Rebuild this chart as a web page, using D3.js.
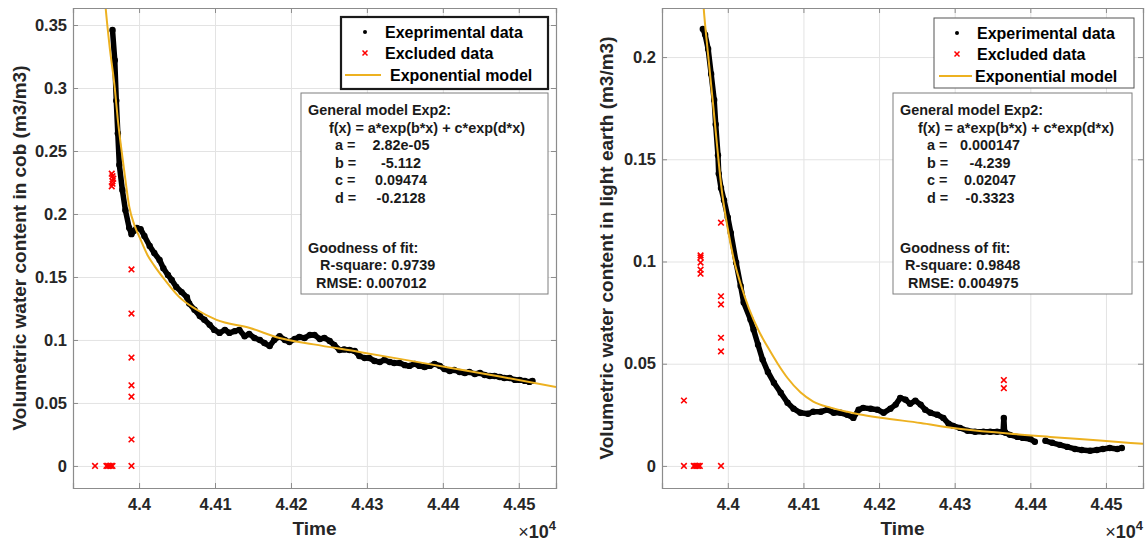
<!DOCTYPE html>
<html>
<head>
<meta charset="UTF-8">
<title>Exp2 fit - volumetric water content</title>
<style>
html, body {
    margin: 0;
    padding: 0;
    background-color: #fff;
}
svg text {
    font-family: "Liberation Sans", Arial, sans-serif;
    font-weight: bold;
}
.axis path, .axis line {
    stroke: #8c8c8c;
}
.axis .tick text {
    fill: #262626;
    font-size: 16.5px;
}
.grid line {
    stroke: #e3e3e3;
}
.grid path {
    display: none;
}
</style>
</head>
<body>
<svg id="chart" width="1146" height="542"></svg>
<script src="https://cdn.jsdelivr.net/npm/d3@7/dist/d3.min.js"></script>
<script>
// shared ticks
const xTicks = [44000, 44100, 44200, 44300, 44400, 44500];
const cobYTicks = [0, 0.05, 0.1, 0.15, 0.2, 0.25, 0.3, 0.35];
const earthYTicks = [0, 0.05, 0.1, 0.15, 0.2];
const legendLabelsCob = ['Exeprimental data', 'Excluded data', 'Exponential model'];
const legendLabelsEarth = ['Experimental data', 'Excluded data', 'Exponential model'];
const paramNames = ['a =', 'b =', 'c =', 'd ='];

// cob panel
const cobTime = [43965, 43968, 43970, 43972, 43974, 43978, 43982, 43987, 43990, 43993, 43997, 44002, 44007, 44014, 44020, 44027, 44032, 44038, 44043, 44049, 44056, 44063, 44066, 44073, 44080, 44086, 44093, 44099, 44106, 44113, 44119, 44126, 44132, 44139, 44145, 44152, 44159, 44165, 44172, 44178, 44185, 44192, 44198, 44205, 44211, 44218, 44225, 44231, 44238, 44244, 44251, 44257, 44264, 44270, 44277, 44284, 44290, 44297, 44303, 44310, 44317, 44323, 44330, 44336, 44343, 44350, 44356, 44363, 44369, 44376, 44383, 44389, 44396, 44402, 44409, 44415, 44422, 44429, 44435, 44442, 44449, 44455, 44462, 44468, 44475, 44481, 44488, 44495, 44501, 44508, 44514, 44518];
const cobVwc = [0.346, 0.322, 0.290, 0.264, 0.239, 0.219, 0.203, 0.189, 0.184, 0.1865, 0.189, 0.188, 0.1825, 0.1746, 0.169, 0.1635, 0.157, 0.1516, 0.1476, 0.142, 0.138, 0.134, 0.129, 0.124, 0.119, 0.116, 0.112, 0.108, 0.1056, 0.108, 0.1056, 0.107, 0.108, 0.103, 0.1048, 0.1016, 0.100, 0.0976, 0.0952, 0.100, 0.103, 0.100, 0.0984, 0.1008, 0.1024, 0.1016, 0.104, 0.104, 0.1008, 0.1016, 0.0992, 0.096, 0.092, 0.0925, 0.092, 0.0913, 0.0873, 0.0857, 0.0857, 0.0833, 0.0825, 0.0841, 0.0825, 0.0817, 0.0817, 0.080, 0.0794, 0.081, 0.0794, 0.0786, 0.0794, 0.081, 0.0794, 0.077, 0.0754, 0.0762, 0.0746, 0.0738, 0.0746, 0.073, 0.0738, 0.0722, 0.0714, 0.0714, 0.0706, 0.0698, 0.0698, 0.0683, 0.0683, 0.0675, 0.0667, 0.0675];
const cobFitTime = [43953, 43956, 43961, 43968, 43972, 43977, 43982, 43987, 43994, 44001, 44011, 44020, 44034, 44053, 44076, 44102, 44146, 44185, 44230, 44290, 44343, 44409, 44475, 44549];
const cobFitVwc = [0.385, 0.3635, 0.334, 0.300, 0.275, 0.250, 0.227, 0.206, 0.191, 0.181, 0.1675, 0.159, 0.1476, 0.134, 0.124, 0.116, 0.1095, 0.1015, 0.0965, 0.0905, 0.085, 0.078, 0.071, 0.0627];
const cobExclTime = [43942, 43957, 43959, 43961, 43963, 43965, 43964, 43965, 43965, 43966, 43965, 43964, 43990, 43990, 43990, 43990, 43990, 43990, 43990];
const cobExclVwc = [0, 0, 0, 0, 0, 0, 0.222, 0.224, 0.226, 0.228, 0.230, 0.232, 0, 0.021, 0.055, 0.064, 0.086, 0.121, 0.156];
const cobParams = ['2.82e-05', '-5.112', '0.09474', '-0.2128'];
const cobGof = ['R-square: 0.9739', 'RMSE: 0.007012'];

// light earth panel (null = gap in record)
const earthTime = [43967, 43970, 43974, 43978, 43982, 43984, 43987, 43988, 43991, 43995, 44000, 44004, 44011, 44017, 44021, 44030, 44034, 44040, 44046, 44053, 44061, 44070, 44079, 44087, 44096, 44106, 44113, 44123, 44132, 44140, 44149, 44158, 44166, 44173, 44179, 44189, 44198, 44206, 44215, 44222, 44228, 44235, 44241, 44248, 44255, 44261, 44268, 44277, 44285, 44292, 44298, 44307, 44317, 44327, 44338, 44347, 44356, 44364, 44365, 44366, 44367, 44373, 44383, 44390, 44400, 44406, 44413, 44420, 44429, 44439, 44449, 44459, 44468, 44479, 44488, 44496, 44505, 44515, 44521];
const earthVwc = [0.2137, 0.211, 0.204, 0.1917, 0.179, 0.167, 0.152, 0.143, 0.136, 0.130, 0.1216, 0.114, 0.0995, 0.088, 0.080, 0.0716, 0.0667, 0.0593, 0.052, 0.046, 0.0407, 0.0358, 0.0309, 0.028, 0.026, 0.0255, 0.0265, 0.0265, 0.0275, 0.026, 0.026, 0.025, 0.0235, 0.0275, 0.0284, 0.028, 0.0275, 0.026, 0.028, 0.030, 0.0333, 0.0324, 0.0304, 0.0319, 0.030, 0.0275, 0.026, 0.025, 0.0235, 0.0206, 0.0196, 0.0186, 0.0172, 0.0167, 0.0167, 0.0167, 0.0167, 0.0167, 0.0235, 0.0167, 0.0162, 0.0152, 0.0142, 0.0137, 0.0132, 0.0118, null, 0.0123, 0.0113, 0.0103, 0.0093, 0.0083, 0.0078, 0.0074, 0.0078, 0.0083, 0.0088, 0.0083, 0.0088];
const earthFitTime = [43966, 43968, 43974, 43980, 43986, 43991, 44000, 44008, 44017, 44028, 44041, 44053, 44066, 44079, 44096, 44113, 44136, 44158, 44175, 44202, 44255, 44298, 44360, 44426, 44492, 44549];
const earthFitVwc = [0.235, 0.2245, 0.201, 0.179, 0.156, 0.138, 0.116, 0.101, 0.089, 0.077, 0.066, 0.058, 0.050, 0.043, 0.036, 0.0315, 0.0285, 0.0265, 0.0252, 0.0236, 0.021, 0.0186, 0.0162, 0.0142, 0.0124, 0.0108];
const earthExclTime = [43942, 43942, 43955, 43957, 43959, 43961, 43963, 43964, 43964, 43964, 43964, 43964, 43991, 43991, 43991, 43991, 43991, 43991, 44365, 44365];
const earthExclVwc = [0, 0.032, 0, 0, 0, 0, 0, 0.094, 0.096, 0.0995, 0.102, 0.103, 0, 0.056, 0.0627, 0.079, 0.083, 0.119, 0.038, 0.042];
const earthParams = ['0.000147', '-4.239', '0.02047', '-0.3323'];
const earthGof = ['R-square: 0.9848', 'RMSE: 0.004975'];

const svg = d3.select('#chart');
const fitColor = '#EDB120';

function drawPanel(p) {
    let g = svg.append('g');
    let x = d3.scaleLinear().domain([43913, 44549]).range([p.left, p.right]);
    let y = d3.scaleLinear().domain(p.yDomain).range([p.bottom, p.top]);
    let w = p.right - p.left, h = p.bottom - p.top;

    // grid
    g.append('g').attr('class', 'grid')
        .attr('transform', `translate(0,${p.bottom})`)
        .call(d3.axisBottom(x).tickValues(xTicks).tickSize(-h).tickFormat(''));
    g.append('g').attr('class', 'grid')
        .attr('transform', `translate(${p.left},0)`)
        .call(d3.axisLeft(y).tickValues(p.yTicks).tickSize(-w).tickFormat(''));

    let clipId = 'clip' + p.id;
    g.append('clipPath').attr('id', clipId).append('rect')
        .attr('x', p.left).attr('y', p.top).attr('width', w).attr('height', h);
    let plot = g.append('g').attr('clip-path', `url(#${clipId})`);

    // experimental data
    let pts = p.time.map((t, i) => [t, p.vwc[i]]);
    let line = d3.line()
        .defined(d => d[1] != null)
        .x(d => x(d[0]))
        .y(d => y(d[1]));
    plot.append('path')
        .attr('d', line(pts))
        .attr('fill', 'none')
        .attr('stroke', '#000')
        .attr('stroke-width', 5.5)
        .attr('stroke-linejoin', 'round')
        .attr('stroke-linecap', 'round');
    plot.selectAll('circle.obs').data(pts.filter(d => d[1] != null)).join('circle')
        .attr('class', 'obs')
        .attr('cx', d => x(d[0]))
        .attr('cy', d => y(d[1]))
        .attr('r', 3.2)
        .attr('fill', '#000');

    // fitted model
    let fit = p.fitTime.map((t, i) => [t, p.fitVwc[i]]);
    plot.append('path')
        .attr('d', d3.line().curve(d3.curveMonotoneX).x(d => x(d[0])).y(d => y(d[1]))(fit))
        .attr('fill', 'none')
        .attr('stroke', fitColor)
        .attr('stroke-width', 2);

    // excluded points
    let ex = p.exclTime.map((t, i) => [t, p.exclVwc[i]]);
    let cross = 2.8;
    plot.selectAll('path.excl').data(ex).join('path')
        .attr('class', 'excl')
        .attr('d', d => {
            let cx = x(d[0]), cy = y(d[1]);
            return `M${cx - cross},${cy - cross}L${cx + cross},${cy + cross}M${cx - cross},${cy + cross}L${cx + cross},${cy - cross}`;
        })
        .attr('stroke', '#ff0000')
        .attr('stroke-width', 1.6);

    // axes with inward ticks on all four sides
    g.append('g').attr('class', 'axis')
        .attr('transform', `translate(0,${p.bottom})`)
        .call(d3.axisBottom(x).tickValues(xTicks).tickSize(-5).tickPadding(10)
            .tickFormat(d => d3.format('')(+(d / 10000).toFixed(2))));
    g.append('g').attr('class', 'axis')
        .attr('transform', `translate(0,${p.top})`)
        .call(d3.axisTop(x).tickValues(xTicks).tickSize(-5).tickFormat(''));
    g.append('g').attr('class', 'axis')
        .attr('transform', `translate(${p.left},0)`)
        .call(d3.axisLeft(y).tickValues(p.yTicks).tickSize(-5).tickPadding(6)
            .tickFormat(d => d3.format('')(+d.toFixed(2))));
    g.append('g').attr('class', 'axis')
        .attr('transform', `translate(${p.right},0)`)
        .call(d3.axisRight(y).tickValues(p.yTicks).tickSize(-5).tickFormat(''));
    g.selectAll('.axis path').attr('stroke-width', 1.2);

    // axis labels
    g.append('text')
        .attr('transform', `translate(${p.ylabelX},${(p.top + p.bottom) / 2}) rotate(-90)`)
        .attr('text-anchor', 'middle')
        .attr('font-size', 19)
        .attr('fill', '#262626')
        .text(p.ylabel);
    g.append('text')
        .attr('x', (p.left + p.right) / 2).attr('y', 535)
        .attr('text-anchor', 'middle')
        .attr('font-size', 19)
        .attr('fill', '#262626')
        .text('Time');
    let mult = g.append('text')
        .attr('x', p.right).attr('y', 538)
        .attr('text-anchor', 'end')
        .attr('font-size', 18)
        .attr('fill', '#262626');
    mult.append('tspan').attr('font-weight', 'normal').text('\u00d7');
    mult.append('tspan').text('10');
    mult.append('tspan').attr('font-size', 13).attr('dy', -8).text('4');

    // legend
    let lg = p.legend;
    g.append('rect')
        .attr('x', lg.x0).attr('y', lg.y0)
        .attr('width', lg.x1 - lg.x0).attr('height', lg.y1 - lg.y0)
        .attr('fill', '#fff')
        .attr('stroke', lg.stroke)
        .attr('stroke-width', lg.strokeWidth);
    let rows = [lg.y0 + 15, lg.y0 + 36, lg.y0 + 58];
    g.append('circle').attr('cx', lg.mark).attr('cy', rows[0]).attr('r', 2).attr('fill', '#000');
    g.append('path')
        .attr('d', `M${lg.mark - 2.5},${rows[1] - 2.5}L${lg.mark + 2.5},${rows[1] + 2.5}M${lg.mark - 2.5},${rows[1] + 2.5}L${lg.mark + 2.5},${rows[1] - 2.5}`)
        .attr('stroke', '#ff0000').attr('stroke-width', 1.5);
    g.append('line')
        .attr('x1', lg.lineX0).attr('x2', lg.lineX1)
        .attr('y1', rows[2]).attr('y2', rows[2])
        .attr('stroke', fitColor).attr('stroke-width', 2);
    g.selectAll('text.leg').data(p.legendLabels).join('text')
        .attr('class', 'leg')
        .attr('x', (d, i) => i == 2 ? lg.text2X : lg.textX)
        .attr('y', (d, i) => rows[i] + 6)
        .attr('font-size', 16)
        .attr('fill', '#000')
        .text(d => d);

    // fit results box
    let tb = p.textBox;
    g.append('rect')
        .attr('x', tb.x0).attr('y', tb.y0)
        .attr('width', tb.x1 - tb.x0).attr('height', tb.y1 - tb.y0)
        .attr('fill', '#fff')
        .attr('stroke', '#7f7f7f')
        .attr('stroke-width', 1);
    let lh = 17.6, base = tb.y0 + 22;
    let tStyle = s => s.attr('font-size', 14.4).attr('fill', '#1a1a1a');
    g.append('text').attr('x', tb.headX).attr('y', base).text('General model Exp2:').call(tStyle);
    g.append('text').attr('x', tb.fxX).attr('y', base + lh).text('f(x) = a*exp(b*x) + c*exp(d*x)').call(tStyle);
    paramNames.forEach((n, i) => {
        g.append('text').attr('x', tb.nameX).attr('y', base + lh * (i + 2)).text(n).call(tStyle);
        g.append('text').attr('x', tb.valX).attr('y', base + lh * (i + 2))
            .attr('text-anchor', 'middle').text(p.params[i]).call(tStyle);
    });
    g.append('text').attr('x', tb.headX).attr('y', base + lh * 7.85).text('Goodness of fit:').call(tStyle);
    g.append('text').attr('x', tb.rsqX).attr('y', base + lh * 8.82).text(p.gof[0]).call(tStyle);
    g.append('text').attr('x', tb.rmseX).attr('y', base + lh * 9.83).text(p.gof[1]).call(tStyle);
}

drawPanel({
    id: 'cob', left: 73, right: 556, top: 8, bottom: 488,
    yDomain: [-0.0175, 0.3635], yTicks: cobYTicks,
    time: cobTime, vwc: cobVwc, fitTime: cobFitTime, fitVwc: cobFitVwc,
    exclTime: cobExclTime, exclVwc: cobExclVwc,
    ylabel: 'Volumetric water content in cob (m3/m3)', ylabelX: 26,
    legendLabels: legendLabelsCob,
    legend: { x0: 341, x1: 548, y0: 17, y1: 89, stroke: '#1a1a1a', strokeWidth: 2.2,
        mark: 365, lineX0: 345, lineX1: 381, textX: 385, text2X: 390 },
    textBox: { x0: 301, x1: 548, y0: 93, y1: 294, headX: 308, fxX: 329, nameX: 335,
        valX: 401, rsqX: 320, rmseX: 316 },
    params: cobParams, gof: cobGof
});

drawPanel({
    id: 'earth', left: 662, right: 1143, top: 8, bottom: 488,
    yDomain: [-0.0108, 0.224], yTicks: earthYTicks,
    time: earthTime, vwc: earthVwc, fitTime: earthFitTime, fitVwc: earthFitVwc,
    exclTime: earthExclTime, exclVwc: earthExclVwc,
    ylabel: 'Volumetric water content in light earth (m3/m3)', ylabelX: 613,
    legendLabels: legendLabelsEarth,
    legend: { x0: 934, x1: 1134, y0: 18, y1: 88, stroke: '#555', strokeWidth: 1,
        mark: 957, lineX0: 939, lineX1: 972, textX: 977, text2X: 975 },
    textBox: { x0: 893, x1: 1132, y0: 93, y1: 294, headX: 900, fxX: 918, nameX: 927,
        valX: 990, rsqX: 905, rmseX: 908 },
    params: earthParams, gof: earthGof
});
</script>
</body>
</html>
